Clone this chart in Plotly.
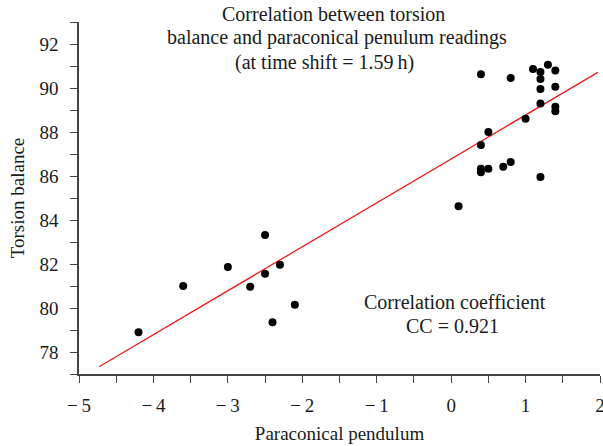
import plotly.graph_objects as go

# Data
pendulum = [-4.2, -3.6, -3.0, -2.7, -2.5, -2.5, -2.3, -2.4, -2.1,
            0.1, 0.4, 0.4, 0.5, 0.7, 0.8, 1.2, 0.4, 0.5, 1.0, 1.2,
            1.4, 1.4, 1.2, 1.4, 1.2, 1.2, 1.4, 1.3, 1.1, 0.8, 0.4]
torsion = [78.9, 81.0, 81.86, 80.97, 81.56, 83.32, 81.97, 79.35, 80.15,
           84.62, 86.17, 86.33, 86.33, 86.42, 86.64, 85.95, 87.41, 88.0, 88.6, 89.29,
           89.15, 88.94, 89.95, 90.06, 90.41, 90.73, 90.79, 91.06, 90.86, 90.45, 90.62]

fit_x = [-4.73, 1.97]
fit_y = [77.33, 90.71]

x_tickvals = [-5, -4, -3, -2, -1, 0, 1, 2]
x_ticktext = ["\u2212\u20095", "\u2212\u20094", "\u2212\u20093", "\u2212\u20092", "\u2212\u20091", "0", "1", "2"]
y_tickvals = [78, 80, 82, 84, 86, 88, 90, 92]
y_ticktext = ["78", "80", "82", "84", "86", "88", "90", "92"]

title_lines = ["Correlation between torsion",
               "balance and paraconical penulum readings",
               "(at time shift = 1.59\u2009h)"]
cc_lines = ["Correlation coefficient", "CC = 0.921"]

FONT = "Liberation Serif"
AXC = "#444444"
TXT = "#1a1a1a"

fig = go.Figure()
fig.add_trace(go.Scatter(x=fit_x, y=fit_y, mode="lines",
                         line=dict(color="#ee1c1c", width=1.3), hoverinfo="skip"))
fig.add_trace(go.Scatter(x=pendulum, y=torsion, mode="markers",
                         marker=dict(color="black", size=8)))

axis_common = dict(showgrid=False, zeroline=False, showline=True, linecolor=AXC, linewidth=1.5,
                   ticks="outside", ticklen=7, tickwidth=1.3, tickcolor=AXC, automargin=False,
                   ticklabeloverflow="allow",
                   tickfont=dict(family=FONT, size=19, color=TXT))

fig.update_xaxes(range=[-5, 2], tickvals=x_tickvals, ticktext=x_ticktext,
                 minor=dict(dtick=0.5, tick0=0, ticks="outside", ticklen=7, tickwidth=1.3, tickcolor=AXC),
                 title=dict(text="Paraconical pendulum", font=dict(family=FONT, size=19, color=TXT), standoff=12),
                 ticklabelstandoff=6, **axis_common)
fig.update_yaxes(range=[77, 93], tickvals=y_tickvals, ticktext=y_ticktext,
                 minor=dict(dtick=1, tick0=0, ticks="outside", ticklen=7, tickwidth=1.3, tickcolor=AXC),
                 title=dict(text="Torsion balance", font=dict(family=FONT, size=19, color=TXT), standoff=10),
                 ticklabelstandoff=8, **axis_common)

title_pos = [(0.489, 1.023), (0.495, 0.955), (0.472, 0.886)]
annotations = []
for txt, (px, py) in zip(title_lines, title_pos):
    annotations.append(dict(text=txt, x=px, y=py, xref="paper", yref="paper",
                            xanchor="center", yanchor="middle", showarrow=False,
                            font=dict(family=FONT, size=20, color=TXT)))
for txt, (dx, dy) in zip(cc_lines, [(0.054, 80.27), (0.02, 79.18)]):
    annotations.append(dict(text=txt, x=dx, y=dy, xref="x", yref="y",
                            xanchor="center", yanchor="middle", showarrow=False,
                            font=dict(family=FONT, size=20, color=TXT)))

fig.update_layout(width=603, height=446, margin=dict(l=79, r=3, t=22, b=72),
                  plot_bgcolor="white", paper_bgcolor="white", showlegend=False,
                  annotations=annotations)

fig.write_html("out.html", config={"displayModeBar": False},
               post_script="document.body.style.margin='0';document.body.style.overflow='hidden';")
